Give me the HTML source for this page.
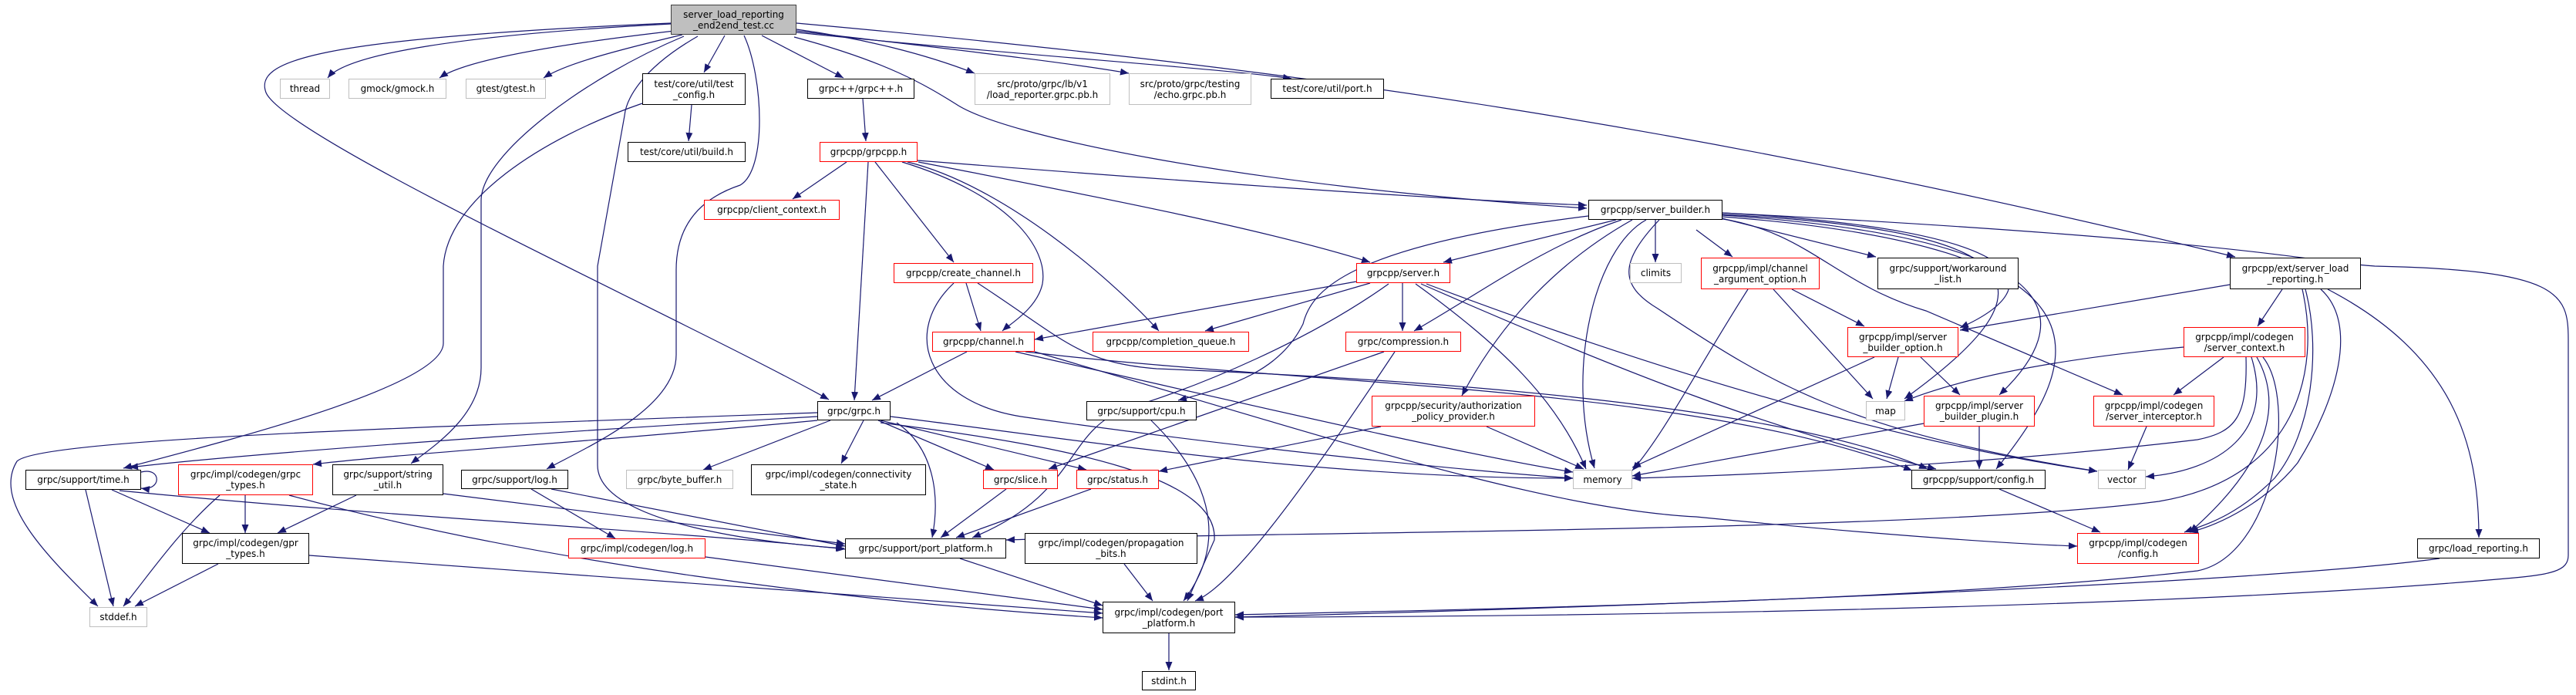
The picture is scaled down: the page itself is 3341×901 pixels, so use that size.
<!DOCTYPE html>
<html><head><meta charset="utf-8"><style>
html,body{margin:0;padding:0;background:#fff;}
#c{position:relative;width:3341px;height:901px;overflow:hidden;font-family:"DejaVu Sans","Liberation Sans",sans-serif;font-size:12px;}
svg{position:absolute;left:0;top:0;}
.n{position:absolute;box-sizing:border-box;border:1.5px solid #000;background:#fff;display:flex;align-items:center;justify-content:center;text-align:center;line-height:14px;white-space:pre;color:#000;}
.r{border-color:#f00;}
.g{border-color:#bfbfbf;}
</style></head><body><div id="c">
<svg width="3341" height="901" viewBox="0 0 3341 901">
<defs><marker id="a" markerUnits="userSpaceOnUse" markerWidth="12" markerHeight="9" refX="11" refY="4.5" orient="auto"><path d="M0,0 L11,4.5 L0,9 z" fill="#191970"/></marker></defs>
<g fill="none" stroke="#191970" stroke-width="1.2" marker-end="url(#a)">
<path d="M870,31 C600,45 450,70 425,101"/>
<path d="M875,40 C700,60 600,80 570,101"/>
<path d="M885,45 C780,70 730,85 705,101"/>
<path d="M940,46 L913,94"/>
<path d="M870,30 C400,50 330,80 345,120 C370,180 900,420 1075,518"/>
<path d="M833,134 C700,180 580,260 575,345 L575,445 C575,500 300,570 160,607"/>
<path d="M887,47 C760,100 624,200 624,260 L624,477 C624,540 560,580 533,601"/>
<path d="M965,46 C990,100 995,220 960,240 C900,260 877,300 877,350 L877,460 C877,530 760,580 709,608"/>
<path d="M905,47 C830,90 812,130 810,150 L775,345 L775,603 C775,680 1000,705 1095,711"/>
<path d="M988,46 L1094,101"/>
<path d="M1033,38 C1120,50 1200,70 1264,95"/>
<path d="M1033,40 C1200,60 1380,80 1464,95"/>
<path d="M1033,42 C1300,70 1600,90 1675,102"/>
<path d="M1030,48 C1150,80 1200,110 1240,135 C1300,175 1600,240 2058,270"/>
<path d="M1033,30 C1700,90 2200,164 2899,333"/>
<path d="M897,136 L893,183"/>
<path d="M1119,128 L1123,183"/>
<path d="M1098,210 L1028,258"/>
<path d="M1126,210 L1108,519"/>
<path d="M1135,210 L1237,340"/>
<path d="M1170,210 C1310,253 1360,322 1352,368 C1345,400 1310,420 1300,429"/>
<path d="M1177,210 C1300,240 1440,360 1503,429"/>
<path d="M1191,210 C1450,260 1650,300 1777,340"/>
<path d="M1190,208 C1600,240 1900,260 2058,266"/>
<path d="M2060,280 C1740,320 1700,380 1690,420 C1660,480 1600,500 1528,519"/>
<path d="M2096,285 L1872,340"/>
<path d="M2103,285 C2000,320 1920,380 1834,429"/>
<path d="M2117,285 C2010,345 1940,430 1896,513"/>
<path d="M2135,285 C2068,322 2030,480 2068,607"/>
<path d="M2147,285 L2147,340"/>
<path d="M2200,298 L2247,333"/>
<path d="M2229,282 L2433,333"/>
<path d="M2234,276 C2636,298 2665,370 2542,425"/>
<path d="M2234,278 C2660,300 2660,380 2470,517"/>
<path d="M2234,279 C2700,310 2690,420 2593,512"/>
<path d="M2234,281 C2750,320 2710,460 2589,608"/>
<path d="M2229,283 C2345,300 2380,368 2498,403 L2753,512"/>
<path d="M2152,285 C2100,340 2100,370 2150,400 C2300,500 2400,560 2720,611"/>
<path d="M2234,276 C2900,310 3000,340 3080,345 C3320,350 3331,380 3331,440 L3331,720 C3331,740 3310,745 3250,750 C2800,790 2000,800 1602,800"/>
<path d="M1759,365 L1342,440"/>
<path d="M1777,367 L1563,429"/>
<path d="M1819,367 L1819,429"/>
<path d="M1801,368 C1700,440 1560,500 1460,530 C1380,560 1400,640 1261,697"/>
<path d="M1836,368 C1950,450 2020,520 2057,608"/>
<path d="M1843,368 C2100,480 2300,560 2511,608"/>
<path d="M1850,368 C2200,500 2500,580 2720,611"/>
<path d="M1253,367 L1272,429"/>
<path d="M1237,367 C1170,430 1200,520 1324,540 C1600,580 1900,610 2040,620"/>
<path d="M1268,367 C1380,440 1400,470 1500,478 C1800,490 2300,520 2500,608"/>
<path d="M1254,456 L1131,519"/>
<path d="M1317,456 C1600,520 1900,590 2040,612"/>
<path d="M1342,456 C1700,560 2000,660 2200,670 C2400,690 2600,705 2694,708"/>
<path d="M1330,456 C1700,500 2200,500 2480,610"/>
<path d="M1795,456 L1360,608"/>
<path d="M1809,456 C1700,620 1600,760 1550,779"/>
<path d="M1791,553 L1503,611"/>
<path d="M1928,553 L2054,608"/>
<path d="M1493,545 C1590,640 1580,720 1535,779"/>
<path d="M1060,535 C500,555 50,570 22,598 C-10,650 60,720 127,786"/>
<path d="M1060,540 C700,560 300,590 168,606"/>
<path d="M1060,545 C800,570 500,590 406,602"/>
<path d="M1077,545 L912,609"/>
<path d="M1120,545 L1091,601"/>
<path d="M1139,545 L1289,609"/>
<path d="M1142,545 L1409,609"/>
<path d="M1163,548 C1210,580 1220,640 1209,697"/>
<path d="M1155,540 C1400,570 1700,620 2040,620"/>
<path d="M1142,548 C1400,580 1580,620 1575,700 L1540,779"/>
<path d="M183,612 C210,605 210,637 183,633"/>
<path d="M111,635 L147,786"/>
<path d="M145,635 L272,691"/>
<path d="M155,636 C500,670 900,690 1096,712"/>
<path d="M318,642 L318,691"/>
<path d="M285,642 C230,690 190,750 160,786"/>
<path d="M375,642 C700,730 1100,780 1430,801"/>
<path d="M462,642 L360,691"/>
<path d="M575,640 L1096,705"/>
<path d="M689,634 L798,698"/>
<path d="M715,634 L1096,708"/>
<path d="M915,722 L1430,790"/>
<path d="M283,731 L175,786"/>
<path d="M401,720 L1430,795"/>
<path d="M1305,634 L1220,697"/>
<path d="M1415,634 L1240,697"/>
<path d="M1245,724 L1430,785"/>
<path d="M1458,731 L1495,779"/>
<path d="M1516,821 L1516,869"/>
<path d="M2892,369 L2542,428"/>
<path d="M2960,375 L2928,423"/>
<path d="M2990,375 C3010,450 3000,560 2950,620 C2900,670 2860,680 2833,690"/>
<path d="M2986,375 C3010,480 2980,620 2800,650 C2500,690 1600,690 1305,700"/>
<path d="M3010,375 C3060,420 3030,520 2980,600 C2940,650 2880,680 2840,690"/>
<path d="M3019,375 C3182,460 3215,575 3215,697"/>
<path d="M2832,450 C2620,470 2520,500 2470,520"/>
<path d="M2884,463 L2819,512"/>
<path d="M2920,463 C2950,560 2880,610 2783,618"/>
<path d="M2927,463 C2970,540 2920,620 2840,690"/>
<path d="M2913,463 C2915,540 2900,560 2850,570 C2600,600 2300,615 2117,620"/>
<path d="M2935,463 C2980,520 2950,720 2850,740 C2500,780 1900,790 1602,797"/>
<path d="M2324,375 L2418,423"/>
<path d="M2300,375 L2429,517"/>
<path d="M2267,375 C2200,480 2160,560 2117,610"/>
<path d="M2462,463 L2447,517"/>
<path d="M2491,463 L2542,512"/>
<path d="M2431,463 L2117,606"/>
<path d="M2567,553 L2567,608"/>
<path d="M2495,549 L2117,617"/>
<path d="M2784,553 L2760,609"/>
<path d="M2593,634 L2724,690"/>
<path d="M3164,724 C2900,760 2000,790 1602,800"/>
</g>
</svg>
<div class="n" style="left:870px;top:6px;width:163px;height:39px;background:#bfbfbf;border-color:#404040">server_load_reporting
_end2end_test.cc</div>
<div class="n g" style="left:363px;top:102px;width:65px;height:26px;color:#000">thread</div>
<div class="n g" style="left:452px;top:102px;width:127px;height:26px">gmock/gmock.h</div>
<div class="n g" style="left:604px;top:102px;width:104px;height:26px">gtest/gtest.h</div>
<div class="n" style="left:833px;top:95px;width:134px;height:41px">test/core/util/test
_config.h</div>
<div class="n" style="left:1047px;top:102px;width:139px;height:26px">grpc++/grpc++.h</div>
<div class="n g" style="left:1264px;top:95px;width:176px;height:41px">src/proto/grpc/lb/v1
/load_reporter.grpc.pb.h</div>
<div class="n g" style="left:1464px;top:95px;width:159px;height:41px">src/proto/grpc/testing
/echo.grpc.pb.h</div>
<div class="n" style="left:1648px;top:102px;width:147px;height:26px">test/core/util/port.h</div>
<div class="n" style="left:814px;top:184px;width:153px;height:26px">test/core/util/build.h</div>
<div class="n r" style="left:1063px;top:184px;width:127px;height:26px">grpcpp/grpcpp.h</div>
<div class="n r" style="left:913px;top:259px;width:176px;height:26px">grpcpp/client_context.h</div>
<div class="n" style="left:2060px;top:259px;width:174px;height:26px">grpcpp/server_builder.h</div>
<div class="n r" style="left:1159px;top:341px;width:181px;height:26px">grpcpp/create_channel.h</div>
<div class="n r" style="left:1759px;top:341px;width:122px;height:26px">grpcpp/server.h</div>
<div class="n g" style="left:2114px;top:341px;width:67px;height:26px">climits</div>
<div class="n r" style="left:2206px;top:334px;width:154px;height:41px">grpcpp/impl/channel
_argument_option.h</div>
<div class="n" style="left:2435px;top:334px;width:183px;height:41px">grpc/support/workaround
_list.h</div>
<div class="n" style="left:2892px;top:334px;width:170px;height:41px">grpcpp/ext/server_load
_reporting.h</div>
<div class="n r" style="left:1209px;top:430px;width:133px;height:26px">grpcpp/channel.h</div>
<div class="n r" style="left:1417px;top:430px;width:203px;height:26px">grpcpp/completion_queue.h</div>
<div class="n r" style="left:1745px;top:430px;width:150px;height:26px">grpc/compression.h</div>
<div class="n r" style="left:2396px;top:424px;width:144px;height:39px">grpcpp/impl/server
_builder_option.h</div>
<div class="n r" style="left:2832px;top:424px;width:158px;height:39px">grpcpp/impl/codegen
/server_context.h</div>
<div class="n" style="left:1060px;top:520px;width:95px;height:25px">grpc/grpc.h</div>
<div class="n" style="left:1409px;top:520px;width:143px;height:25px">grpc/support/cpu.h</div>
<div class="n r" style="left:1779px;top:513px;width:212px;height:40px">grpcpp/security/authorization
_policy_provider.h</div>
<div class="n g" style="left:2420px;top:520px;width:51px;height:25px">map</div>
<div class="n r" style="left:2495px;top:513px;width:144px;height:40px">grpcpp/impl/server
_builder_plugin.h</div>
<div class="n r" style="left:2715px;top:513px;width:157px;height:40px">grpcpp/impl/codegen
/server_interceptor.h</div>
<div class="n" style="left:33px;top:609px;width:150px;height:26px">grpc/support/time.h</div>
<div class="n r" style="left:231px;top:602px;width:175px;height:40px">grpc/impl/codegen/grpc
_types.h</div>
<div class="n" style="left:431px;top:602px;width:144px;height:40px">grpc/support/string
_util.h</div>
<div class="n" style="left:598px;top:609px;width:139px;height:25px">grpc/support/log.h</div>
<div class="n g" style="left:812px;top:609px;width:139px;height:25px">grpc/byte_buffer.h</div>
<div class="n" style="left:974px;top:602px;width:227px;height:40px">grpc/impl/codegen/connectivity
_state.h</div>
<div class="n r" style="left:1275px;top:609px;width:97px;height:25px">grpc/slice.h</div>
<div class="n r" style="left:1396px;top:609px;width:107px;height:25px">grpc/status.h</div>
<div class="n g" style="left:2040px;top:609px;width:77px;height:25px">memory</div>
<div class="n" style="left:2479px;top:609px;width:174px;height:25px">grpcpp/support/config.h</div>
<div class="n g" style="left:2721px;top:609px;width:62px;height:25px">vector</div>
<div class="n" style="left:236px;top:691px;width:165px;height:40px">grpc/impl/codegen/gpr
_types.h</div>
<div class="n r" style="left:737px;top:698px;width:178px;height:26px">grpc/impl/codegen/log.h</div>
<div class="n" style="left:1096px;top:698px;width:209px;height:26px">grpc/support/port_platform.h</div>
<div class="n" style="left:1329px;top:691px;width:224px;height:40px">grpc/impl/codegen/propagation
_bits.h</div>
<div class="n r" style="left:2694px;top:691px;width:158px;height:40px">grpcpp/impl/codegen
/config.h</div>
<div class="n" style="left:3135px;top:698px;width:159px;height:26px">grpc/load_reporting.h</div>
<div class="n g" style="left:116px;top:787px;width:75px;height:26px">stddef.h</div>
<div class="n" style="left:1430px;top:780px;width:172px;height:41px">grpc/impl/codegen/port
_platform.h</div>
<div class="n" style="left:1481px;top:870px;width:70px;height:25px">stdint.h</div>
</div></body></html>
